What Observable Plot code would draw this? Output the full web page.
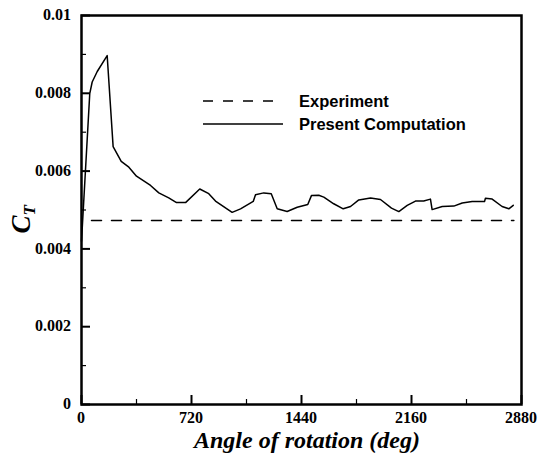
<!DOCTYPE html>
<html>
<head>
<meta charset="utf-8">
<script src="https://cdn.jsdelivr.net/npm/d3@7"></script>
<script src="https://cdn.jsdelivr.net/npm/@observablehq/plot@0.6"></script>
<style>
  html, body { margin: 0; padding: 0; background: #fff; }
</style>
</head>
<body>
<script>
// ---- Data ----
const angle = [0, 54, 70, 103, 168, 207, 260, 310, 360, 452, 506, 571, 622, 681, 774, 833, 877, 986, 1041, 1124, 1139, 1193, 1242, 1281, 1346, 1412, 1481, 1505, 1553, 1586, 1651, 1713, 1761, 1815, 1892, 1957, 2029, 2077, 2132, 2186, 2240, 2284, 2295, 2361, 2437, 2492, 2557, 2638, 2644, 2688, 2753, 2797, 2826];
const ct = [0.0042, 0.00799, 0.00829, 0.00856, 0.00897, 0.00663, 0.00625, 0.0061, 0.00587, 0.00563, 0.00544, 0.00531, 0.00519, 0.00519, 0.00554, 0.00542, 0.00523, 0.00494, 0.00503, 0.00522, 0.00539, 0.00544, 0.00542, 0.00503, 0.00496, 0.00507, 0.00514, 0.00537, 0.00538, 0.00533, 0.00516, 0.00503, 0.00509, 0.00526, 0.00531, 0.00527, 0.00505, 0.00496, 0.00512, 0.00523, 0.00523, 0.00528, 0.00501, 0.00509, 0.0051, 0.00518, 0.00522, 0.00522, 0.0053, 0.00528, 0.00509, 0.00503, 0.00512];
const expAngle = [0, 2830];
const expCt = [0.00473, 0.00473];

const xMajor = [0, 720, 1440, 2160, 2880];
const xMinor = [360, 1080, 1800, 2520];
const xTickLabels = ["0", "720", "1440", "2160", "2880"];
const yMajor = [0, 0.002, 0.004, 0.006, 0.008, 0.01];
const yMinor = [0.001, 0.003, 0.005, 0.007, 0.009];
const yTickLabels = ["0", "0.002", "0.004", "0.006", "0.008", "0.01"];

const seriesNames = ["Experiment", "Present Computation"];
const xTitle = "Angle of rotation (deg)";
const yTitleMain = "C";
const yTitleSub = "T";

const serif = "Liberation Serif";

// ---- Custom render marks ----
function tickLabelMark(index, scales, values, dims) {
  const g = d3.create("svg:g")
    .attr("font-family", serif)
    .attr("font-weight", "bold")
    .attr("font-size", 16)
    .attr("fill", "black");
  const y0 = dims.height - dims.marginBottom;
  yMajor.forEach((v, i) => {
    g.append("text")
      .attr("x", dims.marginLeft - 10).attr("y", scales.y(v)).attr("dy", "0.33em")
      .attr("text-anchor", "end")
      .text(yTickLabels[i]);
  });
  xMajor.forEach((v, i) => {
    g.append("text")
      .attr("x", scales.x(v)).attr("y", y0 + 8).attr("dy", "0.71em")
      .attr("text-anchor", "middle")
      .text(xTickLabels[i]);
  });
  return g.node();
}

function legendMark(index, scales, values, dims) {
  const g = d3.create("svg:g");
  const x0 = dims.marginLeft + 122, xd = dims.marginLeft + 192, xs = dims.marginLeft + 202;
  const tx = dims.marginLeft + 218;
  const rows = [{y: 101, dash: "10,10"}, {y: 124, dash: null}];
  rows.forEach((r, i) => {
    g.append("line")
      .attr("x1", x0).attr("x2", r.dash ? xd : xs)
      .attr("y1", r.y).attr("y2", r.y)
      .attr("stroke", "black").attr("stroke-width", 1.5)
      .attr("stroke-dasharray", r.dash);
    g.append("text")
      .attr("x", tx).attr("y", r.y).attr("dy", "0.36em")
      .attr("text-anchor", "start")
      .attr("font-family", "Liberation Sans")
      .attr("font-weight", "bold").attr("font-size", 16.5)
      .attr("fill", "black")
      .text(seriesNames[i]);
  });
  return g.node();
}

function yTitleMark(index, scales, values, dims) {
  const cy = (dims.marginTop + dims.height - dims.marginBottom) / 2;
  const t = d3.create("svg:text")
    .attr("transform", `translate(30,${cy + 24}) rotate(-90)`)
    .attr("text-anchor", "start")
    .attr("font-family", serif)
    .attr("font-weight", "bold").attr("font-style", "italic")
    .attr("font-size", 27).attr("fill", "black");
  t.append("tspan").text(yTitleMain);
  t.append("tspan").attr("dy", "0.3em").attr("font-size", 17).text(yTitleSub);
  return t.node();
}

function xTitleMark(index, scales, values, dims) {
  return d3.create("svg:text")
    .attr("x", (dims.marginLeft + dims.width - dims.marginRight) / 2 + 6)
    .attr("y", dims.height - 8)
    .attr("text-anchor", "middle")
    .attr("font-family", serif)
    .attr("font-weight", "bold").attr("font-style", "italic")
    .attr("font-size", 24).attr("fill", "black")
    .text(xTitle).node();
}

const chart = Plot.plot({
  width: 542,
  height: 456,
  marginTop: 15,
  marginBottom: 52,
  marginLeft: 81,
  marginRight: 21,
  style: {background: "white", color: "black", overflow: "visible"},
  x: {domain: [0, 2880]},
  y: {domain: [0, 0.01]},
  marks: [
    Plot.axisY({ticks: yMajor, tickSize: -9, strokeWidth: 2, tickFormat: () => "", label: null}),
    Plot.axisY({ticks: yMinor, tickSize: -5, strokeWidth: 1.2, tickFormat: () => "", label: null}),
    Plot.axisX({ticks: xMajor, tickSize: -9, strokeWidth: 2, tickFormat: () => "", label: null}),
    Plot.axisX({ticks: xMinor, tickSize: -5, strokeWidth: 1.2, tickFormat: () => "", label: null}),
    tickLabelMark,
    xTitleMark,
    yTitleMark,
    // data
    Plot.line(expAngle, {x: expAngle, y: expCt, stroke: "black", strokeWidth: 1.5, strokeDasharray: "10,10", strokeDashoffset: 10}),
    Plot.line(angle, {x: angle, y: ct, stroke: "black", strokeWidth: 1.5}),
    legendMark,
    Plot.frame({stroke: "black", strokeWidth: 2.5})
  ]
});
document.body.appendChild(chart);
</script>
</body>
</html>
